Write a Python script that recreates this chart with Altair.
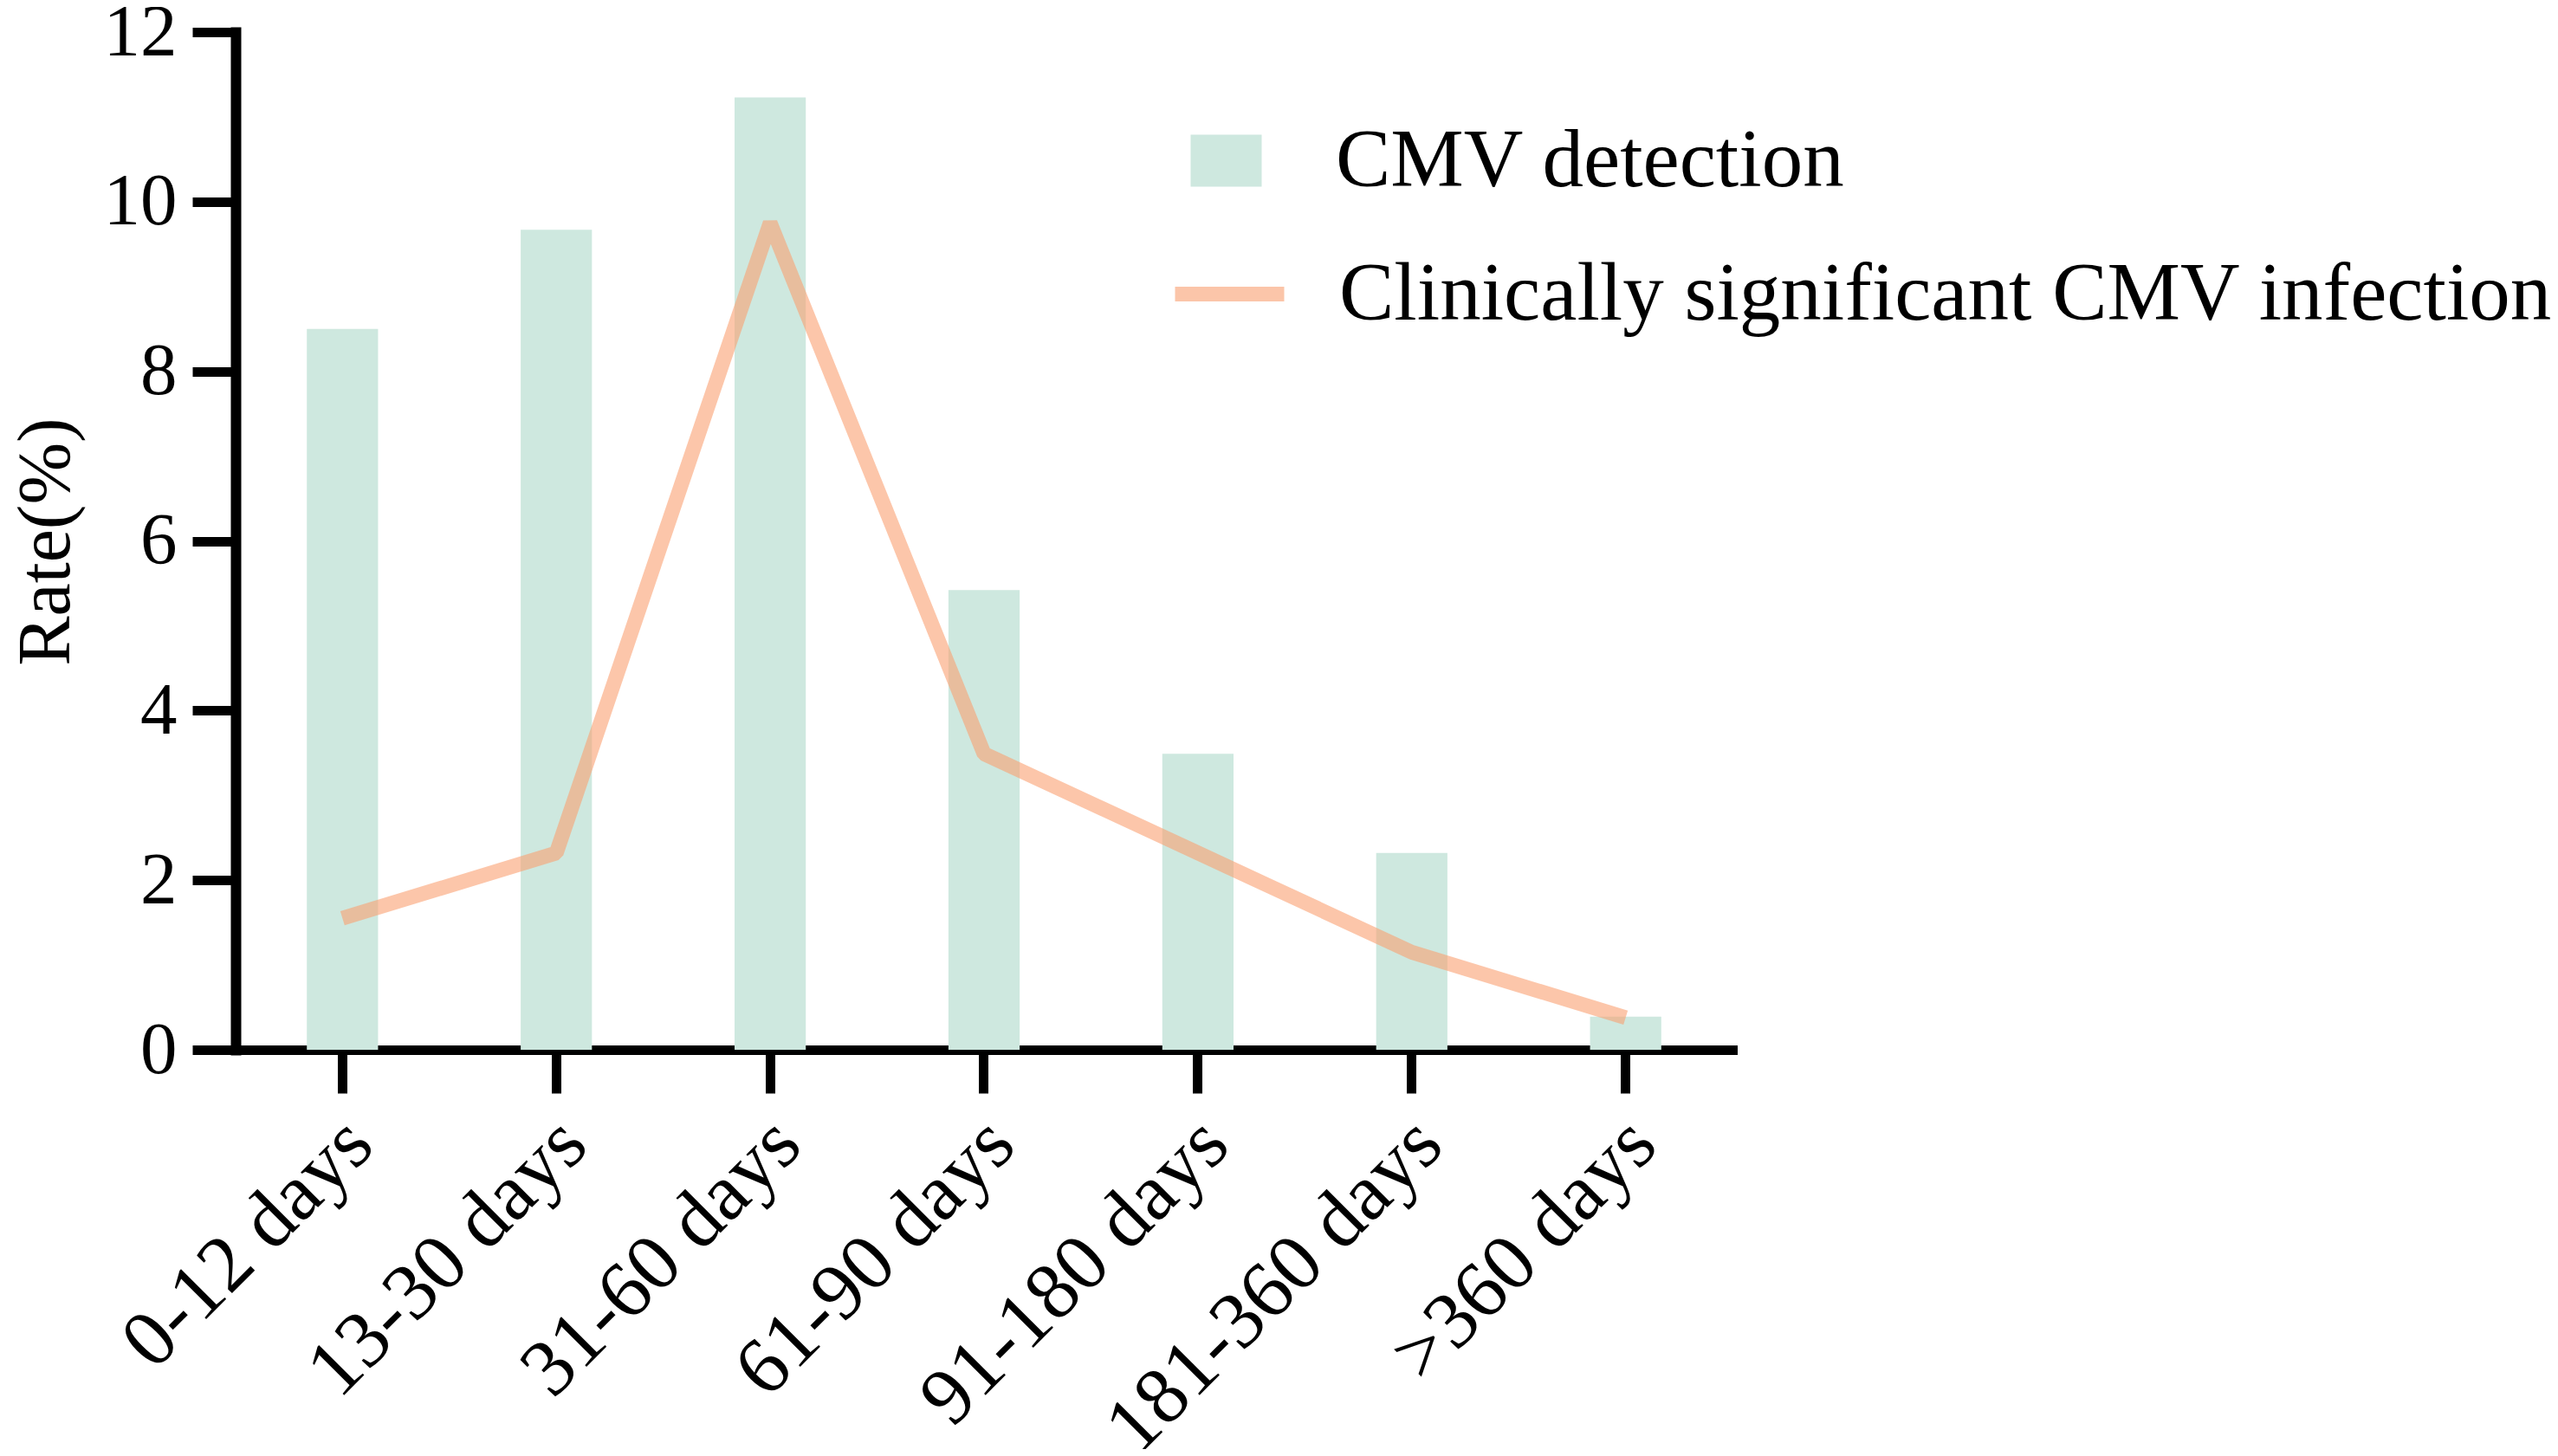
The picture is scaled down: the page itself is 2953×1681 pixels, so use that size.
import altair as alt
import pandas as pd

categories = ["0-12 days", "13-30 days", "31-60 days", "61-90 days",
              "91-180 days", "181-360 days", ">360 days"]
detection = [8.5, 9.67, 11.23, 5.42, 3.49, 2.32, 0.39]
clinical = [1.55, 2.32, 9.75, 3.49, 2.32, 1.15, 0.38]
series_bar = "CMV detection"
series_line = "Clinically significant CMV infection"
y_ticks = [0, 2, 4, 6, 8, 10, 12]

df = pd.DataFrame({
    "period": categories,
    "detection": detection,
    "clinical": clinical,
    "s1": [series_bar] * len(categories),
    "s2": [series_line] * len(categories),
})

FONT = "Liberation Serif"
BAR_COLOR = "#cee8df"
LINE_COLOR = "#faa071"

x_enc = alt.X(
    "period:N", sort=categories,
    scale=alt.Scale(paddingInner=0.667, paddingOuter=0.333),
    axis=alt.Axis(
        title=None, labelAngle=315, labelAlign="right", labelBaseline="top",
        labelFont=FONT, labelFontSize=93,
        labelColor="black", labelPadding=12, labelOffset=-12, labelLimit=0,
        domainColor="black", domainWidth=11, domainCap="square",
        tickColor="black", tickWidth=11, tickSize=50, grid=False,
    ),
)
y_axis = alt.Axis(
    values=y_ticks, grid=False, title="Rate(%)",
    titleFont=FONT, titleFontSize=86, titleFontWeight="normal", titleColor="black",
    titleAngle=270, titleX=-219, titleY=588, titleAlign="center", titleBaseline="middle",
    labelFont=FONT, labelFontSize=85, labelColor="black", labelPadding=18,
    labelFlush=False, labelOverlap=False,
    domainColor="black", domainWidth=12, domainCap="square",
    tickColor="black", tickWidth=11, tickSize=50,
)

bars = alt.Chart(df).mark_bar(opacity=1).encode(
    x=x_enc,
    y=alt.Y("detection:Q", scale=alt.Scale(domain=[0, 12], nice=False), axis=y_axis),
    color=alt.Color(
        "s1:N",
        scale=alt.Scale(domain=[series_bar], range=[BAR_COLOR]),
        legend=alt.Legend(
            title=None, orient="none", legendX=1096, legendY=101,
            symbolType="M-1,-0.73L1,-0.73L1,0.73L-1,0.73Z", symbolSize=6724,
            symbolStrokeWidth=0, symbolOpacity=1,
            labelFont=FONT, labelFontSize=95, labelColor="black",
            labelOffset=79, labelLimit=0, padding=0, symbolOffset=0,
        ),
    ),
)

line = alt.Chart(df).mark_line(
    strokeWidth=17, opacity=0.6, strokeJoin="bevel", strokeCap="butt"
).encode(
    x=x_enc,
    y=alt.Y("clinical:Q", scale=alt.Scale(domain=[0, 12], nice=False), axis=y_axis),
    stroke=alt.Stroke(
        "s2:N",
        scale=alt.Scale(domain=[series_line], range=[LINE_COLOR]),
        legend=alt.Legend(
            title=None, orient="none", legendX=1076, legendY=231,
            symbolType="stroke", symbolSize=15876, symbolStrokeWidth=17,
            symbolOpacity=0.6,
            labelFont=FONT, labelFontSize=95, labelColor="black",
            labelOffset=55, labelLimit=0, padding=0, symbolOffset=0,
        ),
    ),
)

chart = alt.layer(bars, line).properties(
    width=1728, height=1175,
    autosize=alt.AutoSizeParams(type="none"),
    padding={"left": 264, "top": 29, "right": 945, "bottom": 461},
    background="white",
).configure_view(stroke=None)

chart.save("out.html", embed_options={"renderer": "svg", "actions": False})
